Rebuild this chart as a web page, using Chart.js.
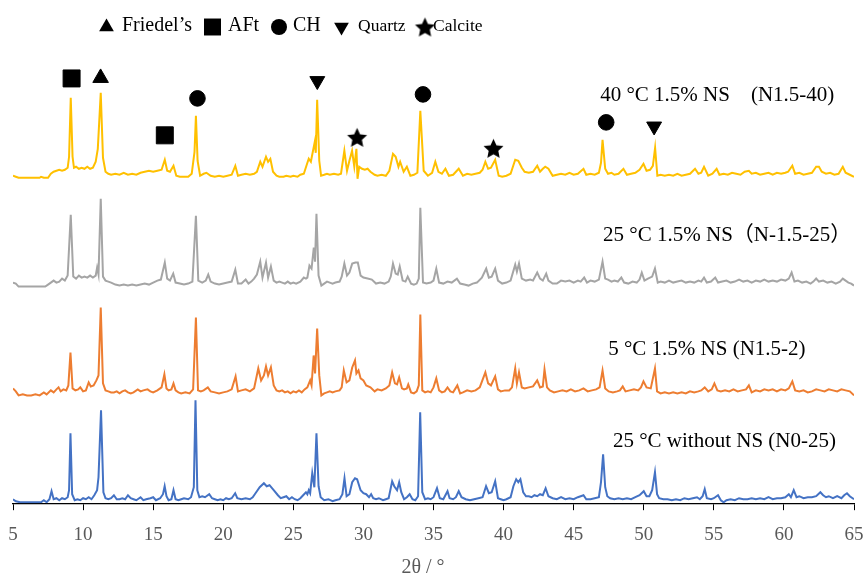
<!DOCTYPE html>
<html>
<head>
<meta charset="utf-8">
<script src="https://cdn.jsdelivr.net/npm/chart.js@4.4.1/dist/chart.umd.min.js"></script>
<style>
  html, body { margin: 0; padding: 0; background: #fff; }
  #xrd { display: block; }
</style>
</head>
<body>
<canvas id="xrd" width="867" height="576"></canvas>
<script>
// --- Data (2θ in degrees, intensity in a.u. above each pattern's own baseline) ---

const seriesNames = ['N0-25', 'N1.5-2', 'N-1.5-25', 'N1.5-40'];
const seriesLabels = [
    '25 °C without NS (N0-25)',
    '5 °C 1.5% NS (N1.5-2)',
    '25 °C 1.5% NS（N-1.5-25）',
    '40 °C 1.5% NS\u3000(N1.5-40)'
];
const seriesOffsets = [1, 108, 217, 326]; // vertical stacking of the patterns

const n0_25 = [
    [5.0,3],[5.2,1],[5.5,0],[6.0,0],[6.5,0],[7.0,0],[7.2,2],[7.4,0],[7.6,3],[7.75,11],[7.9,3],[8.1,4],[8.3,2],[8.5,4],[8.7,3],[8.9,5],
    [9.0,12],[9.1,69],[9.22,8],[9.4,2],[9.6,3],[9.8,2],[10.0,4],[10.2,3],[10.4,5],[10.6,3],[10.8,7],[11.0,12],[11.1,25],[11.28,92],
    [11.45,10],[11.6,4],[11.8,3],[12.0,4],[12.2,7],[12.4,3],[12.6,3],[12.8,4],[13.0,3],[13.2,7],[13.4,4],[13.6,3],[13.8,2],[14.0,4],
    [14.1,5],[14.3,2],[14.5,3],[14.8,4],[15.0,5],[15.2,2],[15.5,4],[15.7,8],[15.82,16],[15.95,6],[16.1,2],[16.3,3],[16.45,12],[16.6,3],
    [16.8,2],[17.0,3],[17.2,4],[17.5,3],[17.7,5],[17.9,15],[18.02,102],[18.15,12],[18.3,5],[18.5,6],[18.7,5],[19.0,8],[19.2,4],[19.4,3],
    [19.6,2],[19.8,3],[20.0,2],[20.2,4],[20.4,3],[20.6,4],[20.85,9],[21.0,4],[21.3,3],[21.6,4],[21.9,3],[22.1,5],[22.3,9],[22.6,15],
    [22.9,19],[23.1,16],[23.3,17],[23.6,12],[23.9,7],[24.1,4],[24.3,5],[24.5,6],[24.7,3],[24.9,5],[25.1,3],[25.3,2],[25.5,4],[25.7,7],
    [25.9,10],[26.0,8],[26.1,12],[26.2,9],[26.35,29],[26.5,15],[26.65,69],[26.8,16],[26.95,5],[27.2,2],[27.5,3],[27.8,1],[28.0,2],
    [28.3,3],[28.5,8],[28.65,24],[28.8,6],[29.0,8],[29.2,20],[29.4,24],[29.55,23],[29.8,12],[30.0,9],[30.2,8],[30.4,5],[30.55,8],
    [30.7,4],[30.9,3],[31.1,4],[31.4,2],[31.6,3],[31.8,4],[32.05,21],[32.2,16],[32.4,12],[32.55,20],[32.7,10],[32.9,3],[33.1,5],
    [33.3,8],[33.5,3],[33.7,2],[33.9,6],[34.05,90],[34.2,10],[34.4,3],[34.6,4],[34.8,3],[35.0,5],[35.25,14],[35.45,4],[35.7,3],
    [36.0,11],[36.15,4],[36.4,3],[36.6,5],[36.8,11],[37.0,5],[37.3,3],[37.6,2],[37.9,3],[38.2,4],[38.5,5],[38.75,16],[38.95,9],
    [39.15,10],[39.4,21],[39.6,4],[39.8,3],[40.0,2],[40.2,3],[40.5,5],[40.7,16],[40.9,23],[41.05,20],[41.2,23],[41.4,10],[41.6,6],
    [41.8,6],[42.0,5],[42.2,7],[42.4,6],[42.6,8],[42.8,7],[43.0,14],[43.2,6],[43.5,4],[43.8,3],[44.1,5],[44.4,3],[44.7,4],[45.0,3],
    [45.3,5],[45.7,7],[45.9,3],[46.2,3],[46.5,4],[46.8,5],[46.95,20],[47.1,48],[47.25,15],[47.4,6],[47.6,4],[47.9,3],[48.2,4],
    [48.5,3],[48.8,4],[49.1,3],[49.4,5],[49.7,7],[50.0,11],[50.2,6],[50.4,6],[50.6,12],[50.8,30],[50.95,8],[51.1,4],[51.4,3],
    [51.7,3],[52.0,2],[52.3,3],[52.6,2],[52.9,4],[53.2,3],[53.5,4],[53.8,5],[54.0,3],[54.2,6],[54.35,13],[54.5,4],[54.8,3],[55.0,4],
    [55.3,7],[55.5,2],[55.7,0],[55.9,2],[56.2,3],[56.5,2],[56.8,4],[57.1,3],[57.4,3],[57.7,4],[58.0,3],[58.3,4],[58.6,3],[58.9,5],
    [59.2,3],[59.5,4],[59.8,4],[60.1,5],[60.35,8],[60.5,5],[60.7,12],[60.9,5],[61.1,6],[61.4,4],[61.7,5],[62.0,5],[62.3,6],[62.6,10],
    [62.8,7],[63.0,5],[63.2,6],[63.5,4],[63.8,6],[64.1,4],[64.3,7],[64.5,9],[64.7,6],[64.9,4],[65.0,3]
];

const n15_2 = [
    [5.0,7],[5.2,4],[5.4,0],[5.7,1],[6.0,0],[6.3,0],[6.6,1],[6.9,0],[7.2,3],[7.4,1],[7.7,5],[7.9,3],[8.1,6],[8.25,8],[8.4,4],[8.6,6],
    [8.8,5],[8.95,10],[9.1,43],[9.25,7],[9.45,5],[9.65,6],[9.8,8],[10.0,4],[10.2,5],[10.4,13],[10.55,9],[10.75,10],[10.95,15],
    [11.1,20],[11.26,88],[11.42,12],[11.6,5],[11.8,4],[12.0,3],[12.2,3],[12.4,4],[12.6,2],[12.8,4],[13.0,5],[13.2,3],[13.4,2],
    [13.6,3],[13.9,6],[14.1,4],[14.3,5],[14.6,6],[14.8,4],[15.0,3],[15.3,5],[15.6,8],[15.8,21],[15.95,7],[16.1,5],[16.3,6],[16.45,12],
    [16.6,5],[16.8,3],[17.0,2],[17.3,3],[17.6,2],[17.85,6],[18.05,78],[18.2,5],[18.4,4],[18.6,5],[18.9,8],[19.1,4],[19.4,3],[19.7,2],
    [20.0,3],[20.3,4],[20.6,6],[20.88,19],[21.05,4],[21.3,5],[21.6,6],[21.9,4],[22.2,7],[22.5,27],[22.7,15],[22.9,20],[23.05,29],
    [23.2,20],[23.4,28],[23.6,10],[23.8,5],[24.0,4],[24.2,5],[24.4,3],[24.6,4],[24.8,2],[25.0,4],[25.2,3],[25.4,5],[25.6,3],[25.8,6],
    [26.0,8],[26.2,15],[26.3,10],[26.45,40],[26.55,22],[26.7,67],[26.85,20],[27.0,0],[27.2,2],[27.4,3],[27.6,4],[27.8,3],[28.0,4],
    [28.3,5],[28.45,8],[28.6,25],[28.8,13],[29.0,15],[29.2,28],[29.4,35],[29.5,22],[29.65,25],[29.8,17],[30.0,15],[30.2,10],[30.5,8],
    [30.8,4],[31.0,6],[31.3,5],[31.6,7],[31.85,10],[32.05,23],[32.25,12],[32.4,11],[32.55,18],[32.75,7],[32.9,6],[33.1,7],[33.2,11],
    [33.4,3],[33.6,2],[33.8,4],[33.95,10],[34.06,81],[34.2,5],[34.4,3],[34.6,4],[34.8,3],[35.0,8],[35.2,17],[35.4,5],[35.6,3],
    [35.8,4],[36.0,8],[36.2,4],[36.4,3],[36.7,10],[36.9,2],[37.1,3],[37.4,5],[37.7,4],[38.0,5],[38.3,8],[38.7,23],[38.9,12],[39.1,10],
    [39.4,19],[39.6,6],[39.8,4],[40.1,5],[40.4,5],[40.6,8],[40.83,27],[40.95,12],[41.1,23],[41.3,8],[41.5,7],[41.8,8],[42.1,9],
    [42.4,15],[42.6,8],[42.8,9],[42.92,26],[43.1,8],[43.3,5],[43.6,3],[43.9,4],[44.2,5],[44.5,4],[44.8,6],[45.1,4],[45.4,5],[45.7,7],
    [46.0,4],[46.3,5],[46.6,6],[46.85,8],[47.06,25],[47.25,7],[47.5,4],[47.8,3],[48.1,4],[48.3,5],[48.5,9],[48.7,4],[49.0,5],[49.3,6],
    [49.6,5],[49.8,8],[49.98,14],[50.2,8],[50.5,7],[50.8,27],[50.95,4],[51.2,2],[51.5,3],[51.8,2],[52.1,3],[52.4,2],[52.7,3],[53.0,2],
    [53.3,4],[53.6,3],[53.9,4],[54.1,5],[54.35,8],[54.6,4],[54.85,6],[55.04,12],[55.25,5],[55.5,4],[55.8,5],[56.1,4],[56.4,6],[56.7,4],
    [57.0,5],[57.3,6],[57.5,10],[57.7,3],[58.0,5],[58.3,4],[58.6,6],[58.9,5],[59.2,6],[59.5,4],[59.8,6],[60.1,5],[60.35,7],[60.6,14],
    [60.8,5],[61.1,4],[61.4,5],[61.7,3],[62.0,4],[62.3,6],[62.6,5],[62.9,4],[63.2,6],[63.5,5],[63.8,4],[64.1,6],[64.4,5],[64.7,4],[65.0,0]
];

const n15_25 = [
    [5.0,4],[5.2,3],[5.4,0],[5.8,0],[6.2,0],[6.6,0],[7.0,0],[7.3,0],[7.5,2],[7.7,4],[7.9,6],[8.1,4],[8.3,5],[8.5,8],[8.7,6],[8.9,11],
    [9.12,72],[9.3,10],[9.5,8],[9.7,11],[9.9,9],[10.1,10],[10.3,9],[10.5,11],[10.7,9],[10.9,11],[11.0,19],[11.1,12],[11.26,88],
    [11.42,10],[11.6,6],[11.8,5],[12.0,4],[12.3,2],[12.6,1],[12.9,2],[13.2,1],[13.5,2],[13.8,1],[14.1,2],[14.4,3],[14.7,2],[15.0,4],
    [15.3,6],[15.55,7],[15.83,24],[16.0,8],[16.2,6],[16.43,13],[16.6,4],[16.9,3],[17.2,2],[17.5,3],[17.8,5],[18.05,71],[18.22,6],
    [18.5,4],[18.75,6],[18.93,12],[19.1,5],[19.4,3],[19.7,2],[20.0,3],[20.3,4],[20.6,5],[20.86,17],[21.05,3],[21.3,3],[21.6,7],
    [21.8,3],[22.0,5],[22.2,8],[22.4,12],[22.64,25],[22.8,9],[23.05,24],[23.2,9],[23.4,20],[23.6,6],[23.8,4],[24.0,5],[24.2,4],
    [24.4,3],[24.6,5],[24.8,3],[25.0,4],[25.2,3],[25.5,5],[25.75,9],[25.9,8],[26.0,9],[26.15,21],[26.3,18],[26.46,39],[26.55,25],
    [26.65,73],[26.8,11],[27.0,1],[27.2,3],[27.4,5],[27.6,4],[27.8,3],[28.0,4],[28.3,5],[28.45,10],[28.64,23],[28.83,11],[29.0,14],
    [29.2,23],[29.43,24],[29.6,24],[29.8,11],[30.0,9],[30.3,8],[30.6,7],[30.9,3],[31.2,4],[31.5,3],[31.8,5],[31.95,10],[32.11,23],
    [32.3,13],[32.45,12],[32.59,20],[32.8,6],[33.0,5],[33.16,10],[33.4,3],[33.6,2],[33.8,3],[33.95,8],[34.06,79],[34.25,4],[34.5,3],
    [34.8,4],[35.0,6],[35.2,18],[35.4,4],[35.7,3],[36.0,5],[36.3,4],[36.67,8],[36.9,3],[37.2,2],[37.5,1],[37.8,3],[38.1,4],[38.45,9],
    [38.76,18],[38.95,9],[39.15,10],[39.4,18],[39.6,6],[39.9,3],[40.2,4],[40.5,6],[40.83,22],[40.95,15],[41.1,23],[41.3,8],[41.6,6],
    [41.9,7],[42.1,6],[42.4,14],[42.6,8],[42.8,6],[43.04,13],[43.2,6],[43.5,3],[43.8,3],[44.1,6],[44.4,5],[44.7,6],[45.0,4],[45.3,6],
    [45.5,5],[45.75,9],[45.95,4],[46.2,6],[46.5,5],[46.8,7],[47.06,25],[47.25,8],[47.45,7],[47.7,5],[47.9,6],[48.15,5],[48.4,9],
    [48.6,4],[48.9,3],[49.2,5],[49.5,4],[49.7,7],[49.86,14],[50.05,6],[50.3,8],[50.6,10],[50.8,18],[51.0,4],[51.2,5],[51.5,4],
    [51.8,6],[52.1,4],[52.4,5],[52.7,6],[53.0,4],[53.3,5],[53.6,4],[53.9,6],[54.1,5],[54.3,9],[54.5,4],[54.8,5],[55.1,9],[55.3,4],
    [55.6,5],[55.9,6],[56.2,4],[56.5,5],[56.8,7],[57.1,5],[57.4,6],[57.7,4],[58.0,6],[58.3,5],[58.6,7],[58.9,5],[59.2,6],[59.5,5],
    [59.8,7],[60.1,6],[60.35,8],[60.55,14],[60.75,5],[61.0,6],[61.3,4],[61.6,5],[61.9,3],[62.1,5],[62.3,8],[62.5,5],[62.8,6],[63.1,4],
    [63.4,5],[63.7,3],[64.0,5],[64.2,8],[64.4,6],[64.6,4],[64.8,3],[65.0,1]
];

const n15_40 = [
    [5.0,2],[5.2,1],[5.4,0],[5.8,0],[6.2,0],[6.6,0],[6.9,0],[7.0,1],[7.2,0],[7.5,0],[7.7,4],[7.9,6],[8.1,7],[8.3,8],[8.5,7],[8.7,8],
    [8.9,10],[9.0,21],[9.12,80],[9.25,21],[9.35,10],[9.5,11],[9.7,9],[9.9,10],[10.1,9],[10.3,11],[10.5,9],[10.7,10],[10.9,16],
    [11.05,29],[11.26,85],[11.42,20],[11.6,6],[11.8,4],[12.0,3],[12.3,4],[12.6,3],[12.9,5],[13.2,3],[13.5,4],[13.8,3],[14.1,5],
    [14.4,6],[14.7,7],[15.0,6],[15.3,7],[15.6,8],[15.83,18],[16.0,7],[16.2,6],[16.45,12],[16.65,2],[16.9,1],[17.2,1],[17.5,1],
    [17.75,4],[17.95,26],[18.05,62],[18.17,17],[18.35,2],[18.6,4],[18.8,5],[19.1,2],[19.4,1],[19.7,2],[20.0,1],[20.3,2],[20.6,3],
    [20.86,12],[21.05,2],[21.3,3],[21.6,4],[21.9,3],[22.2,4],[22.4,6],[22.64,16],[22.8,11],[23.05,21],[23.2,16],[23.36,19],[23.55,6],
    [23.8,2],[24.0,1],[24.3,1],[24.5,2],[24.8,1],[25.0,2],[25.3,1],[25.5,3],[25.75,4],[25.98,14],[26.1,19],[26.25,16],[26.53,36],
    [26.6,25],[26.7,78],[26.85,17],[26.98,2],[27.2,3],[27.4,4],[27.6,3],[27.9,4],[28.2,3],[28.4,4],[28.64,27],[28.83,7],[29.0,17],
    [29.19,27],[29.35,11],[29.5,29],[29.58,-1],[29.7,11],[29.9,9],[30.1,8],[30.3,9],[30.5,6],[30.8,3],[31.0,2],[31.3,3],[31.6,2],
    [31.85,7],[32.11,24],[32.3,21],[32.5,11],[32.62,16],[32.87,6],[33.1,11],[33.35,2],[33.6,3],[33.85,5],[34.06,67],[34.3,7],[34.6,2],
    [34.9,5],[35.13,16],[35.35,6],[35.6,4],[35.85,9],[36.1,2],[36.4,3],[36.8,9],[37.1,2],[37.4,4],[37.7,3],[38.0,4],[38.3,5],[38.5,8],
    [38.7,16],[38.9,9],[39.1,10],[39.4,18],[39.65,2],[39.9,1],[40.2,2],[40.5,4],[40.83,18],[41.05,17],[41.3,10],[41.5,6],[41.8,5],
    [42.1,6],[42.4,12],[42.6,6],[42.8,9],[42.97,11],[43.2,9],[43.5,2],[43.8,3],[44.1,4],[44.4,3],[44.7,5],[45.0,3],[45.3,4],[45.7,9],
    [45.9,3],[46.2,4],[46.5,3],[46.8,5],[46.95,15],[47.06,38],[47.25,9],[47.45,4],[47.7,5],[47.9,3],[48.2,4],[48.55,9],[48.8,3],
    [49.1,4],[49.4,5],[49.7,8],[49.98,14],[50.2,7],[50.45,8],[50.65,12],[50.81,30],[50.97,2],[51.2,3],[51.5,2],[51.8,3],[52.1,2],
    [52.4,4],[52.7,2],[53.0,3],[53.3,4],[53.66,9],[53.9,4],[54.1,5],[54.3,11],[54.6,2],[54.9,4],[55.2,9],[55.4,3],[55.7,4],[56.0,3],
    [56.3,5],[56.6,4],[56.9,3],[57.2,6],[57.5,7],[57.7,4],[58.0,5],[58.3,3],[58.6,4],[58.9,5],[59.2,3],[59.5,5],[59.8,4],[60.1,5],
    [60.3,6],[60.6,12],[60.8,4],[61.1,5],[61.4,3],[61.7,4],[62.0,5],[62.3,11],[62.5,11],[62.7,6],[63.0,4],[63.3,5],[63.6,3],[63.9,4],
    [64.2,11],[64.4,5],[64.7,3],[65.0,1]
];

// phase markers above the N1.5-40 pattern: [2θ, height]
const phaseNames = ['Friedel’s', 'AFt', 'CH', 'Quartz', 'Calcite'];
const friedelPeaks = [[11.25, 426]];
const aftPeaks = [[9.18, 425.5], [15.83, 368.5]];
const chPeaks = [[18.16, 405.5], [34.25, 409.5], [47.32, 381.5]];
const quartzPeaks = [[26.71, 423], [50.74, 377.5]];
const calcitePeaks = [[29.55, 366.5], [39.28, 355.5]];

const xTicks = [5, 10, 15, 20, 25, 30, 35, 40, 45, 50, 55, 60, 65];

// --- Styling ---

const colors = ['#4472C4', '#ED7D31', '#A5A5A5', '#FFC000'];
const SERIF = '"Liberation Serif", "Times New Roman", "Noto Sans CJK SC", serif';

function makeStar(r) {
    const c = document.createElement('canvas');
    c.width = c.height = Math.ceil(r * 2 + 2);
    const g = c.getContext('2d');
    const m = c.width / 2;
    g.beginPath();
    for (let i = 0; i < 10; i++) {
        const rad = i % 2 ? r * 0.48 : r;
        const a = -Math.PI / 2 + i * Math.PI / 5;
        g.lineTo(m + rad * Math.cos(a), m + 1 + rad * Math.sin(a));
    }
    g.closePath();
    g.fillStyle = '#000';
    g.fill();
    return c;
}
const starImg = makeStar(10.5);

// --- Datasets ---

const patterns = [n0_25, n15_2, n15_25, n15_40];
const patternSets = patterns.map((pts, i) => ({
    label: seriesNames[i],
    data: pts.map(([x, y]) => ({ x, y: y + seriesOffsets[i] })),
    borderColor: colors[i],
    borderWidth: 2,
    pointRadius: 0,
    tension: 0,
    fill: false
}));

function markerSet(label, pts, style, radius, rotation) {
    return {
        label,
        data: pts.map(([x, y]) => ({ x, y })),
        showLine: false,
        pointStyle: style,
        pointRadius: radius,
        pointRotation: rotation || 0,
        pointBackgroundColor: '#000',
        pointBorderColor: '#000',
        pointBorderWidth: 1
    };
}
const markerSets = [
    markerSet(phaseNames[0], friedelPeaks, 'triangle', 9),
    markerSet(phaseNames[1], aftPeaks, 'rect', 12),
    markerSet(phaseNames[2], chPeaks, 'circle', 7.8),
    markerSet(phaseNames[3], quartzPeaks, 'triangle', 8.6, 180),
    markerSet(phaseNames[4], calcitePeaks, starImg, 10)
];

// --- Texts drawn on top: legend row, pattern names, axis title ---

const legendItems = [
    { style: 'triangle', r: 8.5, rot: 0, cx: 106.5, text: phaseNames[0], tx: 122, size: 20 },
    { style: 'rect', r: 12, rot: 0, cx: 212.5, text: phaseNames[1], tx: 228, size: 20 },
    { style: 'circle', r: 8, rot: 0, cx: 279, text: phaseNames[2], tx: 293, size: 20 },
    { style: 'triangle', r: 8.5, rot: 180, cx: 341.5, text: phaseNames[3], tx: 358, size: 17.5 },
    { style: starImg, r: 10, rot: 0, cx: 425, text: phaseNames[4], tx: 433, size: 17.5 }
];
const labelAnchors = [[47.8, 61.5], [47.46, 153.5], [47.1, 268.5], [46.89, 408.5]];

const overlay = {
    id: 'overlay',
    afterDraw(chart) {
        const c = chart.ctx;
        const xs = chart.scales.x, ys = chart.scales.y;
        c.save();
        c.fillStyle = '#000';
        c.strokeStyle = '#000';
        c.textBaseline = 'middle';
        c.textAlign = 'left';

        legendItems.forEach(it => {
            Chart.helpers.drawPoint(c, { pointStyle: it.style, radius: it.r, rotation: it.rot, borderWidth: 0 }, it.cx, 27);
            c.font = it.size + 'px ' + SERIF;
            c.fillText(it.text, it.tx, 26);
        });

        c.font = '21px ' + SERIF;
        seriesLabels.forEach((t, i) => {
            const [lx, ly] = labelAnchors[i];
            c.fillText(t, xs.getPixelForValue(lx), ys.getPixelForValue(ly));
        });

        c.fillStyle = '#595959';
        c.textAlign = 'center';
        c.font = '20px ' + SERIF;
        c.fillText('2θ / °', 423, 568);
        c.restore();
    }
};

// --- Chart ---

new Chart(document.getElementById('xrd').getContext('2d'), {
    type: 'line',
    data: { datasets: [...patternSets, ...markerSets] },
    options: {
        responsive: false,
        animation: false,
        events: [],
        layout: { padding: { left: 12.3, right: 13, top: 34, bottom: 17 } },
        plugins: {
            legend: { display: false },
            tooltip: { enabled: false }
        },
        scales: {
            x: {
                type: 'linear',
                min: xTicks[0],
                max: xTicks[xTicks.length - 1],
                afterBuildTicks: axis => { axis.ticks = xTicks.map(v => ({ value: v })); },
                afterFit: axis => { axis.paddingLeft = 0; axis.paddingRight = 0; },
                ticks: {
                    color: '#595959',
                    font: { family: SERIF, size: 19 },
                    padding: 13
                },
                grid: {
                    drawOnChartArea: false,
                    tickLength: 7,
                    color: '#000',
                    lineWidth: 1
                },
                border: { color: '#000', width: 1.3 }
            },
            y: {
                display: false,
                min: 0,
                max: 470
            }
        }
    },
    plugins: [overlay]
});
</script>
</body>
</html>
